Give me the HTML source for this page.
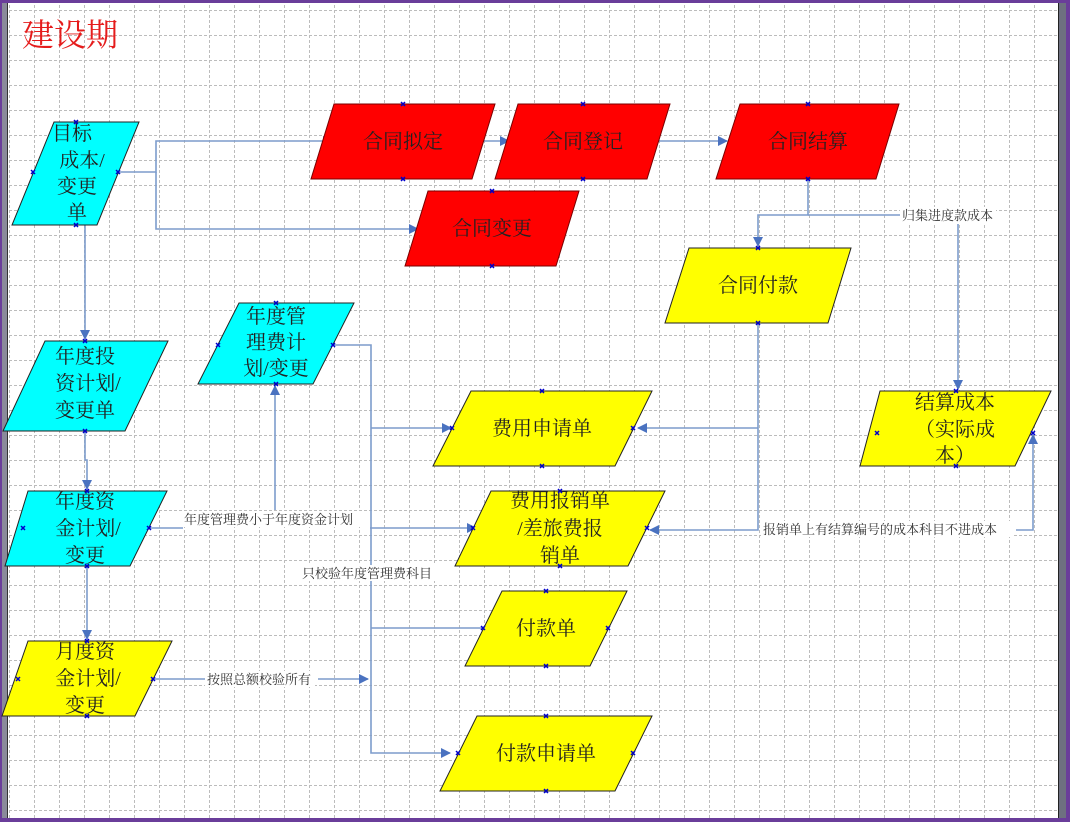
<!DOCTYPE html>
<html><head><meta charset="utf-8"><style>
html,body{margin:0;padding:0;width:1070px;height:822px;overflow:hidden;background:#fff}
svg{display:block}
text{font-family:"Liberation Serif","Noto Serif CJK SC",serif}
.n{font-size:20px;fill:#222;text-anchor:middle}
.l{font-size:13px;fill:#333}
.c{stroke:#7d9ccc;stroke-width:1.6;fill:none}
</style></head><body>
<svg width="1070" height="822" viewBox="0 0 1070 822" xmlns="http://www.w3.org/2000/svg">
<defs>
<pattern id="g" x="9" y="10" width="25" height="25" patternUnits="userSpaceOnUse">
<path d="M0 0.5H25M0.5 0V25" stroke="#bcbcbc" stroke-width="1" stroke-dasharray="3,2" fill="none"/>
</pattern>
<marker id="a" markerWidth="10" markerHeight="10" refX="9" refY="5" orient="auto" markerUnits="userSpaceOnUse">
<path d="M0 0L10 5L0 10z" fill="#4a72c0"/></marker>
</defs>
<rect x="0" y="0" width="1070" height="822" fill="#fff"/>
<rect x="8" y="3" width="1050" height="815" fill="url(#g)"/>
<rect x="0" y="0" width="1070" height="3" fill="#6a3d9a"/>
<rect x="0" y="818" width="1070" height="4" fill="#6a3d9a"/>
<rect x="0" y="0" width="2" height="822" fill="#6a3d9a"/>
<rect x="2" y="3" width="5" height="815" fill="#8a8a9a"/>
<rect x="7" y="3" width="1" height="815" fill="#333"/>
<rect x="1058" y="3" width="1" height="815" fill="#222"/>
<rect x="1059" y="3" width="7" height="815" fill="#6e7080"/>
<rect x="1066" y="0" width="4" height="822" fill="#6a3d9a"/>
<text x="22" y="46" font-size="32" fill="#e51c1c">建设期</text>

<path class="c" d="M118 172H156V141H332" marker-end="url(#a)"/>
<path class="c" d="M156 172V229H418" marker-end="url(#a)"/>
<path class="c" d="M482 141H509" marker-end="url(#a)"/>
<path class="c" d="M653 141H727" marker-end="url(#a)"/>
<path class="c" d="M808 179V215H758V246" marker-end="url(#a)"/>
<path class="c" d="M808 215H900"/>
<path class="c" d="M958 224V389" marker-end="url(#a)"/>
<path class="c" d="M85 225V339" marker-end="url(#a)"/>
<path class="c" d="M85 431V460H87V489" marker-end="url(#a)"/>
<path class="c" d="M87 566V639" marker-end="url(#a)"/>
<path class="c" d="M149 528H183"/>
<path class="c" d="M370 528H476" marker-end="url(#a)"/>
<path class="c" d="M275 510V386" marker-end="url(#a)"/>
<path class="c" d="M333 345H371V753H450" marker-end="url(#a)"/>
<path class="c" d="M371 428H451" marker-end="url(#a)"/>
<path class="c" d="M371 628H483"/>
<path class="c" d="M153 679H205"/>
<path class="c" d="M318 679H368" marker-end="url(#a)"/>
<path class="c" d="M758 323V530H650" marker-end="url(#a)"/>
<path class="c" d="M758 428H638" marker-end="url(#a)"/>
<path class="c" d="M1016 530H1033V435" marker-end="url(#a)"/>

<g fill="#fff">
<rect x="900" y="207" width="96" height="16"/>
<rect x="182" y="511" width="186" height="16"/>
<rect x="300" y="565" width="136" height="16"/>
<rect x="205" y="671" width="110" height="16"/>
<rect x="761" y="521" width="252" height="16"/>
</g>
<text class="l" x="902" y="220">归集进度款成本</text>
<text class="l" x="184" y="524">年度管理费小于年度资金计划</text>
<text class="l" x="302" y="578">只校验年度管理费科目</text>
<text class="l" x="207" y="684">按照总额校验所有</text>
<text class="l" x="763" y="534">报销单上有结算编号的成本科目不进成本</text>

<g stroke="#222" stroke-width="1">
<polygon points="54,122 139,122 97,225 12,225" fill="#00ffff"/>
<polygon points="334,104 495,104 472,179 311,179" fill="#ff0000" stroke="#7a0000"/>
<polygon points="518,104 670,104 647,179 495,179" fill="#ff0000" stroke="#7a0000"/>
<polygon points="740,104 899,104 876,179 716,179" fill="#ff0000" stroke="#7a0000"/>
<polygon points="428,191 579,191 556,266 405,266" fill="#ff0000" stroke="#7a0000"/>
<polygon points="689,248 851,248 828,323 665,323" fill="#ffff00"/>
<polygon points="239,303 354,303 313,384 198,384" fill="#00ffff"/>
<polygon points="45,341 168,341 125,431 3,431" fill="#00ffff"/>
<polygon points="28,491 167,491 130,566 5,566" fill="#00ffff"/>
<polygon points="28,641 172,641 135,716 2,716" fill="#ffff00"/>
<polygon points="471,391 652,391 615,466 433,466" fill="#ffff00"/>
<polygon points="491,491 665,491 628,566 455,566" fill="#ffff00"/>
<polygon points="502,591 627,591 590,666 465,666" fill="#ffff00"/>
<polygon points="477,716 652,716 615,791 440,791" fill="#ffff00"/>
<polygon points="880,391 1051,391 1015,466 860,466" fill="#ffff00"/>
</g>

<text class="n" x="72" y="140">目标</text>
<text class="n" x="82" y="167">成本/</text>
<text class="n" x="77" y="193">变更</text>
<text class="n" x="77" y="219">单</text>
<text class="n" x="403" y="148">合同拟定</text>
<text class="n" x="583" y="148">合同登记</text>
<text class="n" x="808" y="148">合同结算</text>
<text class="n" x="492" y="235">合同变更</text>
<text class="n" x="758" y="292">合同付款</text>
<text class="n" x="276" y="323">年度管</text>
<text class="n" x="276" y="349">理费计</text>
<text class="n" x="276" y="375">划/变更</text>
<text class="n" x="85" y="363">年度投</text>
<text class="n" x="88" y="390">资计划/</text>
<text class="n" x="85" y="417">变更单</text>
<text class="n" x="85" y="508">年度资</text>
<text class="n" x="88" y="535">金计划/</text>
<text class="n" x="85" y="562">变更</text>
<text class="n" x="85" y="658">月度资</text>
<text class="n" x="88" y="685">金计划/</text>
<text class="n" x="85" y="712">变更</text>
<text class="n" x="542" y="435">费用申请单</text>
<text class="n" x="560" y="507">费用报销单</text>
<text class="n" x="560" y="535">/差旅费报</text>
<text class="n" x="560" y="562">销单</text>
<text class="n" x="546" y="635">付款单</text>
<text class="n" x="546" y="760">付款申请单</text>
<text class="n" x="955" y="409">结算成本</text>
<text class="n" x="955" y="436">（实际成</text>
<text class="n" x="955" y="462">本）</text>

<g stroke="#0000cc" stroke-width="1.5">
<path d="M401 102l4 4m0-4l-4 4M401 177l4 4m0-4l-4 4M581 102l4 4m0-4l-4 4M581 177l4 4m0-4l-4 4M806 102l4 4m0-4l-4 4M806 177l4 4m0-4l-4 4M490 189l4 4m0-4l-4 4M490 264l4 4m0-4l-4 4M756 246l4 4m0-4l-4 4M756 321l4 4m0-4l-4 4M274 301l4 4m0-4l-4 4M274 382l4 4m0-4l-4 4M331 343l4 4m0-4l-4 4M216 343l4 4m0-4l-4 4M74 120l4 4m0-4l-4 4M74 223l4 4m0-4l-4 4M31 170l4 4m0-4l-4 4M116 170l4 4m0-4l-4 4M83 339l4 4m0-4l-4 4M83 429l4 4m0-4l-4 4M85 489l4 4m0-4l-4 4M85 564l4 4m0-4l-4 4M21 526l4 4m0-4l-4 4M147 526l4 4m0-4l-4 4M85 639l4 4m0-4l-4 4M85 714l4 4m0-4l-4 4M16 677l4 4m0-4l-4 4M151 677l4 4m0-4l-4 4M540 389l4 4m0-4l-4 4M540 464l4 4m0-4l-4 4M450 426l4 4m0-4l-4 4M631 426l4 4m0-4l-4 4M558 489l4 4m0-4l-4 4M558 564l4 4m0-4l-4 4M471 526l4 4m0-4l-4 4M645 526l4 4m0-4l-4 4M544 589l4 4m0-4l-4 4M544 664l4 4m0-4l-4 4M481 626l4 4m0-4l-4 4M606 626l4 4m0-4l-4 4M544 714l4 4m0-4l-4 4M544 789l4 4m0-4l-4 4M456 751l4 4m0-4l-4 4M631 751l4 4m0-4l-4 4M954 389l4 4m0-4l-4 4M954 464l4 4m0-4l-4 4M875 431l4 4m0-4l-4 4M1031 431l4 4m0-4l-4 4"/>
</g>
</svg>
</body></html>
